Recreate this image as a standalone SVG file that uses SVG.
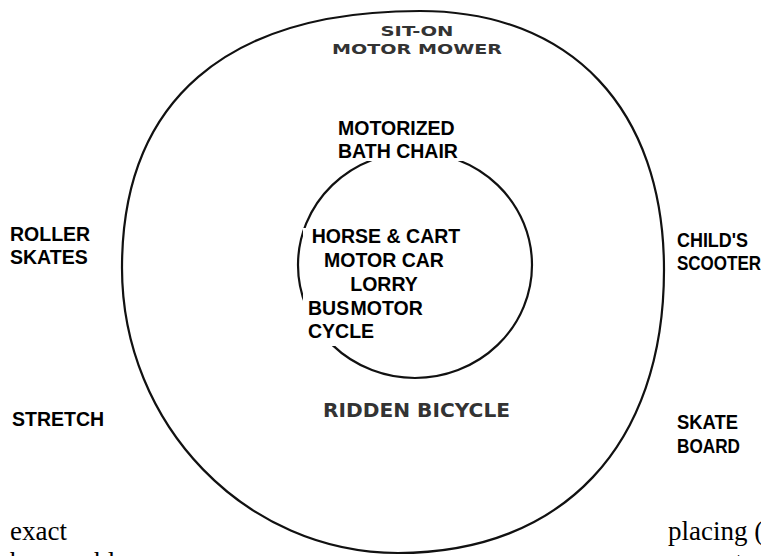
<svg xmlns="http://www.w3.org/2000/svg" width="761" height="556" viewBox="0 0 761 556">
<style>
.ring{fill:none;stroke:#111;stroke-width:2.2}
.lbl{font-family:"Liberation Sans",Arial,sans-serif;font-weight:bold;font-size:19.5px;fill:#000}
.scan{font-family:"DejaVu Sans",sans-serif;font-weight:bold;fill:#333}
.body{font-family:"Liberation Serif","Times New Roman",serif;font-size:27px;fill:#000}
</style>
<rect width="761" height="556" fill="#fff"/>
<g id="rings">
<path class="ring" d="M420,11 C571,11 664,109 664,270 C664,445 563,553 398,553 C246,553 122,425 122,268 C122,101 226,11 420,11 Z"/>
<ellipse class="ring" cx="415" cy="265" rx="117" ry="113" stroke-width="2.5"/>
</g>
<g id="sit-on-motor-mower">
<text class="scan" x="417" y="36" font-size="14" text-anchor="middle" textLength="73" lengthAdjust="spacingAndGlyphs">SIT-ON</text>
<text class="scan" x="417" y="54" font-size="14" text-anchor="middle" textLength="170" lengthAdjust="spacingAndGlyphs">MOTOR MOWER</text>
</g>
<g id="motorized-bath-chair">
<rect x="336" y="115" width="129" height="46" fill="#fff"/>
<text class="lbl" x="338" y="135" font-size="20.5">MOTORIZED</text>
<text class="lbl" x="338" y="158" font-size="20">BATH CHAIR</text>
</g>
<g id="inner-vehicles">
<rect x="303" y="228" width="165" height="118" fill="#fff"/>
<text class="lbl" x="386" y="243" text-anchor="middle">HORSE &amp; CART</text>
<text class="lbl" x="384" y="267" text-anchor="middle">MOTOR CAR</text>
<text class="lbl" x="384" y="291" text-anchor="middle">LORRY</text>
<text class="lbl" x="308" y="315" word-spacing="-4">BUS MOTOR</text>
<text class="lbl" x="308" y="338">CYCLE</text>
</g>
<g id="roller-skates">
<text class="lbl" x="10" y="241">ROLLER</text>
<text class="lbl" x="10" y="264">SKATES</text>
</g>
<g id="childs-scooter">
<text class="lbl" x="677" y="247" textLength="71" lengthAdjust="spacingAndGlyphs">CHILD'S</text>
<text class="lbl" x="677" y="270" textLength="84" lengthAdjust="spacingAndGlyphs">SCOOTER</text>
</g>
<g id="stretch">
<text class="lbl" x="12" y="426">STRETCH</text>
</g>
<g id="ridden-bicycle">
<text class="scan" x="323" y="417" font-size="19" textLength="187" lengthAdjust="spacingAndGlyphs">RIDDEN BICYCLE</text>
</g>
<g id="skate-board">
<text class="lbl" x="677" y="429" font-size="18" textLength="61" lengthAdjust="spacingAndGlyphs">SKATE</text>
<text class="lbl" x="677" y="453" font-size="18" textLength="63" lengthAdjust="spacingAndGlyphs">BOARD</text>
</g>
<g id="connectors"></g>
<g id="body-text">
<text class="body" x="10" y="540">exact</text>
<text class="body" x="668" y="540">placing (</text>
<text class="body" x="10" y="571" word-spacing="40">be able</text>
<text class="body" x="735" y="571">to</text>
</g>
</svg>
